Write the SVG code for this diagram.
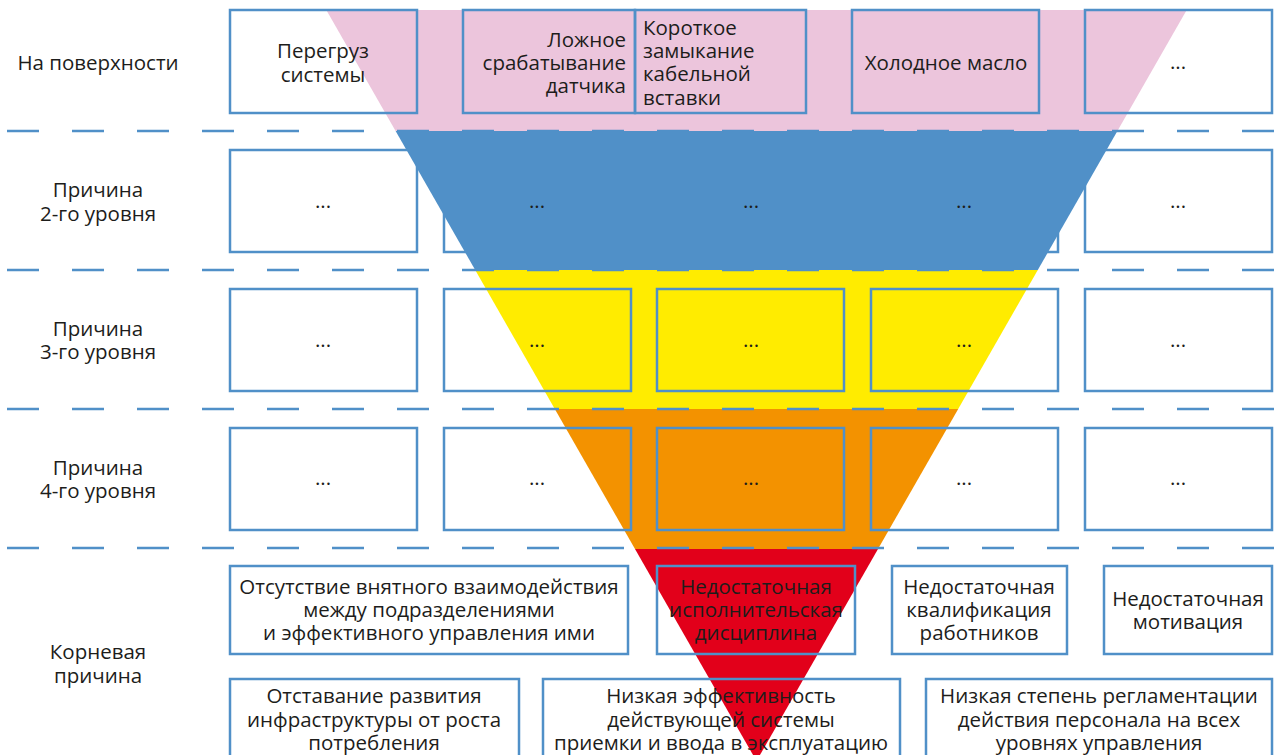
<svg xmlns="http://www.w3.org/2000/svg" width="1279" height="755" viewBox="0 0 1279 755">
<style>
.bx{fill:none;stroke:#5090c8;stroke-width:2.5}
.dash{stroke:#5090c8;stroke-width:2.5;stroke-dasharray:32 33;fill:none}
text{font-family:"Open Sans","Liberation Sans",sans-serif;font-size:20.5px;fill:#1d1d1b}
.c{text-anchor:middle}
.r{text-anchor:end}
.l{text-anchor:start}
</style>
<rect width="1279" height="755" fill="#ffffff"/>
<g id="funnel">
<polygon points="326.3,10 1186.7,10 1117.4,131 395.6,131" fill="#ecc5dc"/>
<polygon points="395.6,131 1117.4,131 1037.8,270 475.2,270" fill="#5090c8"/>
<polygon points="475.2,270 1037.8,270 958.2,409 554.8,409" fill="#ffec00"/>
<polygon points="554.8,409 958.2,409 878,549 635,549" fill="#f39200"/>
<polygon points="635,549 878,549 756.5,761" fill="#e2001a"/>
</g>
<g id="connectors">
<line class="dash" x1="7" y1="131" x2="1274" y2="131"/>
<line class="dash" x1="7" y1="270" x2="1274" y2="270"/>
<line class="dash" x1="7" y1="409" x2="1274" y2="409"/>
<line class="dash" x1="7" y1="548" x2="1274" y2="548"/>
</g>
<g id="labels">
<text class="c" x="98" y="70">На поверхности</text>
<text class="c" x="98" y="197">Причина</text>
<text class="c" x="98" y="221">2-го уровня</text>
<text class="c" x="98" y="336">Причина</text>
<text class="c" x="98" y="359">3-го уровня</text>
<text class="c" x="98" y="475">Причина</text>
<text class="c" x="98" y="498">4-го уровня</text>
<text class="c" x="98" y="659">Корневая</text>
<text class="c" x="98" y="683">причина</text>
</g>
<g id="n1-1"><rect class="bx" x="230" y="10" width="187" height="103"/><text class="c" x="323" y="58">Перегруз</text><text class="c" x="323" y="82">системы</text></g>
<g id="n1-2"><rect class="bx" x="463" y="10" width="172" height="103"/><text class="r" x="626" y="47">Ложное</text><text class="r" x="626" y="70">срабатывание</text><text class="r" x="626" y="93">датчика</text></g>
<g id="n1-3"><rect class="bx" x="635" y="10" width="171" height="103"/><text class="l" x="643" y="35">Короткое</text><text class="l" x="643" y="58">замыкание</text><text class="l" x="643" y="81">кабельной</text><text class="l" x="643" y="105">вставки</text></g>
<g id="n1-4"><rect class="bx" x="852" y="10" width="187" height="103"/><text class="c" x="946" y="70">Холодное масло</text></g>
<g id="n1-5"><rect class="bx" x="1085" y="10" width="187" height="103"/><text class="c" x="1178" y="69">...</text></g>
<g id="n2-1"><rect class="bx" x="230" y="150" width="187" height="102"/><text class="c" x="323" y="208">...</text></g>
<g id="n2-2"><rect class="bx" x="444" y="150" width="187" height="102"/><text class="c" x="537" y="208">...</text></g>
<g id="n2-3"><rect class="bx" x="657" y="150" width="187" height="102"/><text class="c" x="751" y="208">...</text></g>
<g id="n2-4"><rect class="bx" x="871" y="150" width="187" height="102"/><text class="c" x="964" y="208">...</text></g>
<g id="n2-5"><rect class="bx" x="1085" y="150" width="187" height="102"/><text class="c" x="1178" y="208">...</text></g>
<g id="n3-1"><rect class="bx" x="230" y="289" width="187" height="102"/><text class="c" x="323" y="347">...</text></g>
<g id="n3-2"><rect class="bx" x="444" y="289" width="187" height="102"/><text class="c" x="537" y="347">...</text></g>
<g id="n3-3"><rect class="bx" x="657" y="289" width="187" height="102"/><text class="c" x="751" y="347">...</text></g>
<g id="n3-4"><rect class="bx" x="871" y="289" width="187" height="102"/><text class="c" x="964" y="347">...</text></g>
<g id="n3-5"><rect class="bx" x="1085" y="289" width="187" height="102"/><text class="c" x="1178" y="347">...</text></g>
<g id="n4-1"><rect class="bx" x="230" y="428" width="187" height="102"/><text class="c" x="323" y="485">...</text></g>
<g id="n4-2"><rect class="bx" x="444" y="428" width="187" height="102"/><text class="c" x="537" y="485">...</text></g>
<g id="n4-3"><rect class="bx" x="657" y="428" width="187" height="102"/><text class="c" x="751" y="485">...</text></g>
<g id="n4-4"><rect class="bx" x="871" y="428" width="187" height="102"/><text class="c" x="964" y="485">...</text></g>
<g id="n4-5"><rect class="bx" x="1085" y="428" width="187" height="102"/><text class="c" x="1178" y="485">...</text></g>
<g id="r1"><rect class="bx" x="230" y="566" width="398" height="88"/><text class="c" x="429" y="594">Отсутствие внятного взаимодействия</text><text class="c" x="429" y="617">между подразделениями</text><text class="c" x="429" y="640">и эффективного управления ими</text></g>
<g id="r2"><rect class="bx" x="657" y="566" width="198" height="88"/><text class="c" x="756" y="594">Недостаточная</text><text class="c" x="756" y="617">исполнительская</text><text class="c" x="756" y="640">дисциплина</text></g>
<g id="r3"><rect class="bx" x="892" y="566" width="175" height="88"/><text class="c" x="979" y="594">Недостаточная</text><text class="c" x="979" y="617">квалификация</text><text class="c" x="979" y="640">работников</text></g>
<g id="r4"><rect class="bx" x="1104" y="566" width="168" height="88"/><text class="c" x="1188" y="606">Недостаточная</text><text class="c" x="1188" y="629">мотивация</text></g>
<g id="r5"><rect class="bx" x="230" y="679" width="289" height="90"/><text class="c" x="374" y="703">Отставание развития</text><text class="c" x="374" y="727">инфраструктуры от роста</text><text class="c" x="374" y="750">потребления</text></g>
<g id="r6"><rect class="bx" x="543" y="679" width="357" height="90"/><text class="c" x="721" y="703">Низкая эффективность</text><text class="c" x="721" y="727">действующей системы</text><text class="c" x="721" y="750">приемки и ввода в эксплуатацию</text></g>
<g id="r7"><rect class="bx" x="926" y="679" width="346" height="90"/><text class="c" x="1099" y="703">Низкая степень регламентации</text><text class="c" x="1099" y="727">действия персонала на всех</text><text class="c" x="1099" y="750">уровнях управления</text></g>
</svg>
